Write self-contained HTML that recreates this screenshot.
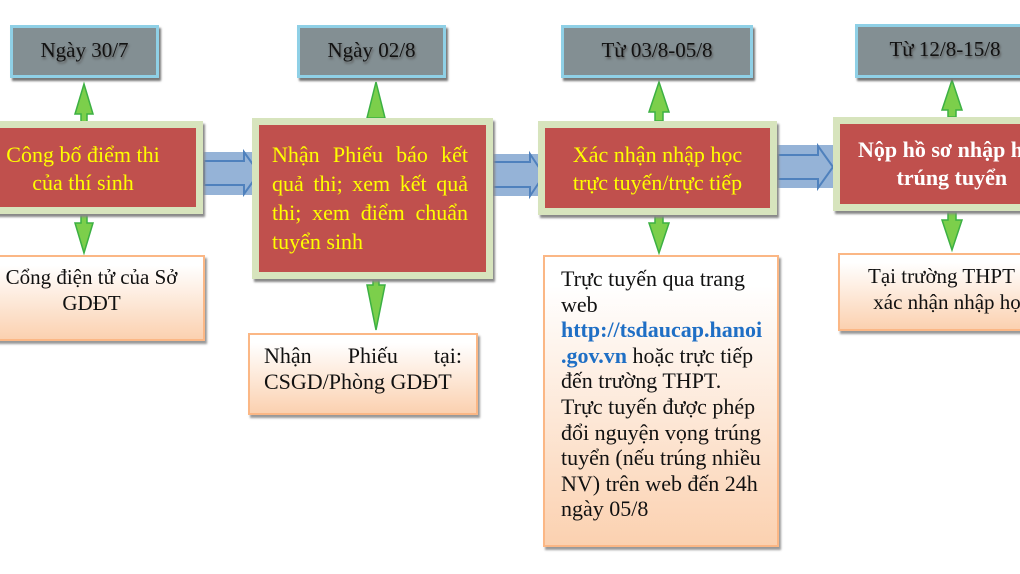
<!DOCTYPE html>
<html><head><meta charset="utf-8"><style>
body{margin:0;width:1020px;height:574px;background:#fff;position:relative;overflow:hidden;font-family:"Liberation Serif",serif}
.g{position:absolute;background:#838f93;border:3px solid #8fd0e6;box-sizing:border-box;box-shadow:2px 3px 2px #777;font-size:21px;color:#111;text-align:center;line-height:44px;text-shadow:1px 2px 2px #555}
.r{position:absolute;background:#c0504d;border:7px solid #d7e4bd;box-sizing:border-box;box-shadow:2px 3px 2px #888;color:#ffff00;font-size:22px;line-height:28px}
.b{position:absolute;border:2px solid #fbb785;box-sizing:border-box;background:linear-gradient(#fff 10%,#fbd1b0);box-shadow:2px 3px 2px #999;font-size:21px;line-height:25.6px;color:#111}
svg{position:absolute;left:0;top:0}
</style></head><body>
<svg width="1020" height="574">
<g fill="#95b3d7">
<rect x="202" y="152" width="58" height="43"/>
<rect x="490" y="154" width="56" height="42"/>
<rect x="776" y="145" width="58" height="43"/>
</g>
<g fill="#95b3d7" stroke="#4f81bd" stroke-width="2">
<path d="M204 161h40v-9l15 21-15 21v-9h-40z"/>
<path d="M492 162h38v-8l14 21-14 21v-9h-38z"/>
<path d="M778 155h40v-9l15 21-15 21v-9h-40z"/>
</g>
<g fill="#7ccf4b" stroke="#3cb043" stroke-width="1.5">
<path d="M84 84l-9 30h6v8h6v-8h6z"/><path d="M84 253l-9-30h6v-8h6v8h6z"/>
<path d="M376 82l-9 36h18z"/><path d="M376 330l-9-45h6v-6h6v6h6z"/>
<path d="M659 82l-10 30h6v9h8v-9h6z"/><path d="M659 253l-10-30h6v-8h8v8h6z"/>
<path d="M952 80l-10 30h6v7h8v-7h6z"/><path d="M952 250l-10-30h6v-8h8v8h6z"/>
</g>
</svg>
<div class="g" style="left:10px;top:25px;width:149px;height:53px">Ngày 30/7</div>
<div class="g" style="left:297px;top:25px;width:149px;height:53px">Ngày 02/8</div>
<div class="g" style="left:561px;top:25px;width:192px;height:53px">Từ 03/8-05/8</div>
<div class="g" style="left:855px;top:24px;width:180px;height:54px">Từ 12/8-15/8</div>

<div class="r" style="left:-37px;top:121px;width:240px;height:93px;text-align:center;padding-top:13px">Công bố điểm thi<br>của thí sinh</div>
<div class="r" style="left:252px;top:118px;width:241px;height:161px;padding:15px 18px 0 13px;text-align:justify;text-align-last:left;line-height:29px">Nhận Phiếu báo kết quả thi; xem kết quả thi; xem điểm chuẩn tuyển sinh</div>
<div class="r" style="left:538px;top:121px;width:239px;height:94px;text-align:center;padding-top:13px">Xác nhận nhập học<br>trực tuyến/trực tiếp</div>
<div class="r" style="left:833px;top:117px;width:200px;height:94px;padding-top:12px;padding-left:18px;color:#fff;font-weight:bold;white-space:nowrap">Nộp hồ sơ nhập học<br>&nbsp;&nbsp;&nbsp;&nbsp;&nbsp;&nbsp;&nbsp;trúng tuyển</div>

<div class="b" style="left:-22px;top:255px;width:227px;height:86px;text-align:center;padding-top:8px">Cổng điện tử của Sở<br>GDĐT</div>
<div class="b" style="left:248px;top:333px;width:230px;height:82px;padding:8px 14px 0 14px;text-align:justify;text-align-last:left;font-size:22px">Nhận Phiếu tại: CSGD/Phòng GDĐT</div>
<div class="b" style="left:543px;top:255px;width:236px;height:292px;padding:9px 0 0 16px;line-height:25.6px;font-size:22px;white-space:nowrap">Trực tuyến qua trang<br>web<br><b style="color:#1f6fc5">http://tsdaucap.hanoi</b><br><b style="color:#1f6fc5">.gov.vn</b> hoặc trực tiếp<br>đến trường THPT.<br>Trực tuyến được phép<br>đổi nguyện vọng trúng<br>tuyển (nếu trúng nhiều<br>NV) trên web đến 24h<br>ngày 05/8</div>
<div class="b" style="left:838px;top:253px;width:200px;height:78px;padding:9px 0 0 28px;white-space:nowrap">Tại trường THPT<br>&nbsp;xác nhận nhập học</div>
</body></html>
